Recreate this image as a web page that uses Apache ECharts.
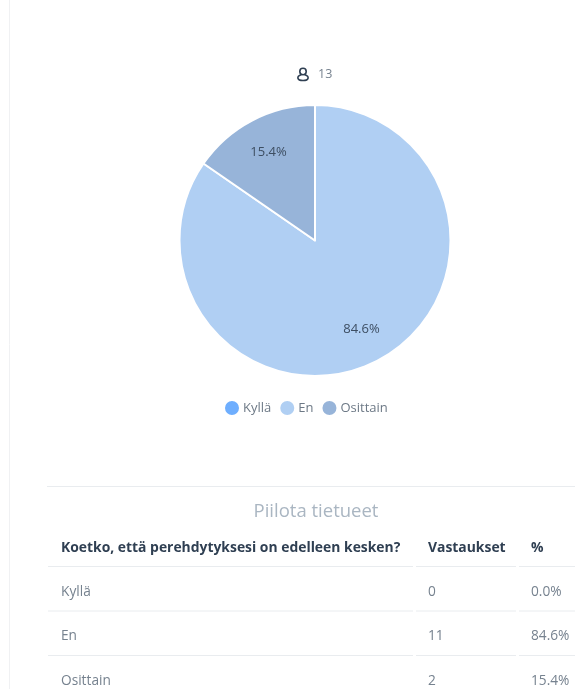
<!DOCTYPE html>
<html lang="fi">
<head>
<meta charset="utf-8">
<style>
html,body{margin:0;padding:0;background:#fff}
#chart{width:575px;height:689px}
</style>
<script src="https://cdn.jsdelivr.net/npm/echarts@6/dist/echarts.min.js"></script>
</head>
<body>
<div id="chart"></div>
<script>
// Survey answers
const categories = ['Kyllä', 'En', 'Osittain'];
const answers = [0, 11, 2];
const shares = ['0.0%', '84.6%', '15.4%'];
const respondents = 13;
const question = 'Koetko, että perehdytyksesi on edelleen kesken?';
const answersHeading = 'Vastaukset';
const shareHeading = '%';
const toggleText = 'Piilota tietueet';

const colors = ['#6eaefe', '#b0cff3', '#97b4d9'];
const ink = '#2f3f52';
const muted = '#76828f';
const rule = '#e9ecef';
const font = '"Open Sans", sans-serif';

const pieCenter = [315, 240.5];
const sliceData = categories.map((name, i) => ({
  name, value: answers[i], itemStyle: { color: colors[i] }
}));

// Table rules and text
const columnX = [61, 428, 531];
const columnRules = [[48, 413], [416, 516], [519, 575]];
const rowY = [592, 636, 681];
const ruleY = [566.5, 611, 655.5];

const hline = (x1, x2, y) => ({
  type: 'line', silent: true,
  shape: { x1, y1: y, x2, y2: y },
  style: { stroke: rule, lineWidth: 1 }
});
const label = (x, y, text, fill, size, weight, align) => ({
  type: 'text', silent: true, x, y,
  style: { text, fill, font: `${weight || 400} ${size}px ${font}`, align: align || 'left', verticalAlign: 'middle' }
});

const tableGraphics = [
  { type: 'line', silent: true, shape: { x1: 9.5, y1: 0, x2: 9.5, y2: 689 }, style: { stroke: '#f0f1f3', lineWidth: 1 } },
  hline(47, 575, 486.5),
  label(316, 512, toggleText, '#aab6c2', 18.5, 400, 'center'),
  label(columnX[0], 548.5, question, ink, 13.9, 700),
  label(columnX[1], 548.5, answersHeading, ink, 13.9, 700),
  label(columnX[2], 548.5, shareHeading, ink, 13.9, 700)
];
ruleY.forEach(y => columnRules.forEach(([a, b]) => tableGraphics.push(hline(a, b, y))));
categories.forEach((name, i) => {
  tableGraphics.push(
    label(columnX[0], rowY[i], name, muted, 13.7),
    label(columnX[1], rowY[i], String(answers[i]), muted, 13.7),
    label(columnX[2], rowY[i], shares[i], muted, 13.7)
  );
});

// Respondent count with a person icon: head ring and rounded shoulders
const iconStroke = { fill: 'none', stroke: ink, lineWidth: 1.6 };
const personIcon = {
  type: 'group', silent: true, x: 303, y: 74.5,
  children: [
    { type: 'circle', shape: { cx: 0, cy: -3, r: 3.2 }, style: iconStroke },
    { type: 'bezierCurve', shape: { x1: -1.5, y1: 0, cpx1: -7, cpy1: 2, cpx2: -6, cpy2: 6, x2: 0, y2: 6 }, style: iconStroke },
    { type: 'bezierCurve', shape: { x1: 1.5, y1: 0, cpx1: 7, cpy1: 2, cpx2: 6, cpy2: 6, x2: 0, y2: 6 }, style: iconStroke }
  ]
};

const chart = echarts.init(document.getElementById('chart'));
chart.setOption({
  animation: false,
  color: colors,
  legend: {
    left: 223, top: 399,
    padding: 0,
    icon: 'circle',
    itemWidth: 16, itemHeight: 16, itemGap: 7,
    selectedMode: false,
    textStyle: { fontFamily: font, fontSize: 13, color: '#6d7986', padding: [0, 0, 0, -2] },
    data: categories
  },
  graphic: [personIcon, label(318, 74, String(respondents), muted, 12.5), ...tableGraphics],
  series: [
    {
      type: 'pie', center: pieCenter, radius: [0, 135.5],
      startAngle: 90, clockwise: true, silent: true,
      itemStyle: { borderColor: '#fff', borderWidth: 2 },
      label: { show: false }, labelLine: { show: false },
      data: sliceData
    },
    {
      // Transparent ring that places the percentage labels near the rim
      type: 'pie', center: pieCenter, radius: [59, 135],
      startAngle: 90, clockwise: true, silent: true,
      legendHoverLink: false,
      itemStyle: { color: 'transparent', borderWidth: 0 },
      label: {
        show: true, position: 'inside',
        fontFamily: font, fontSize: 13, color: '#3d4e62',
        formatter: p => p.value > 0 ? shares[p.dataIndex] : ''
      },
      labelLine: { show: false },
      data: categories.map((name, i) => ({ name, value: answers[i] }))
    }
  ]
});
</script>
</body>
</html>
